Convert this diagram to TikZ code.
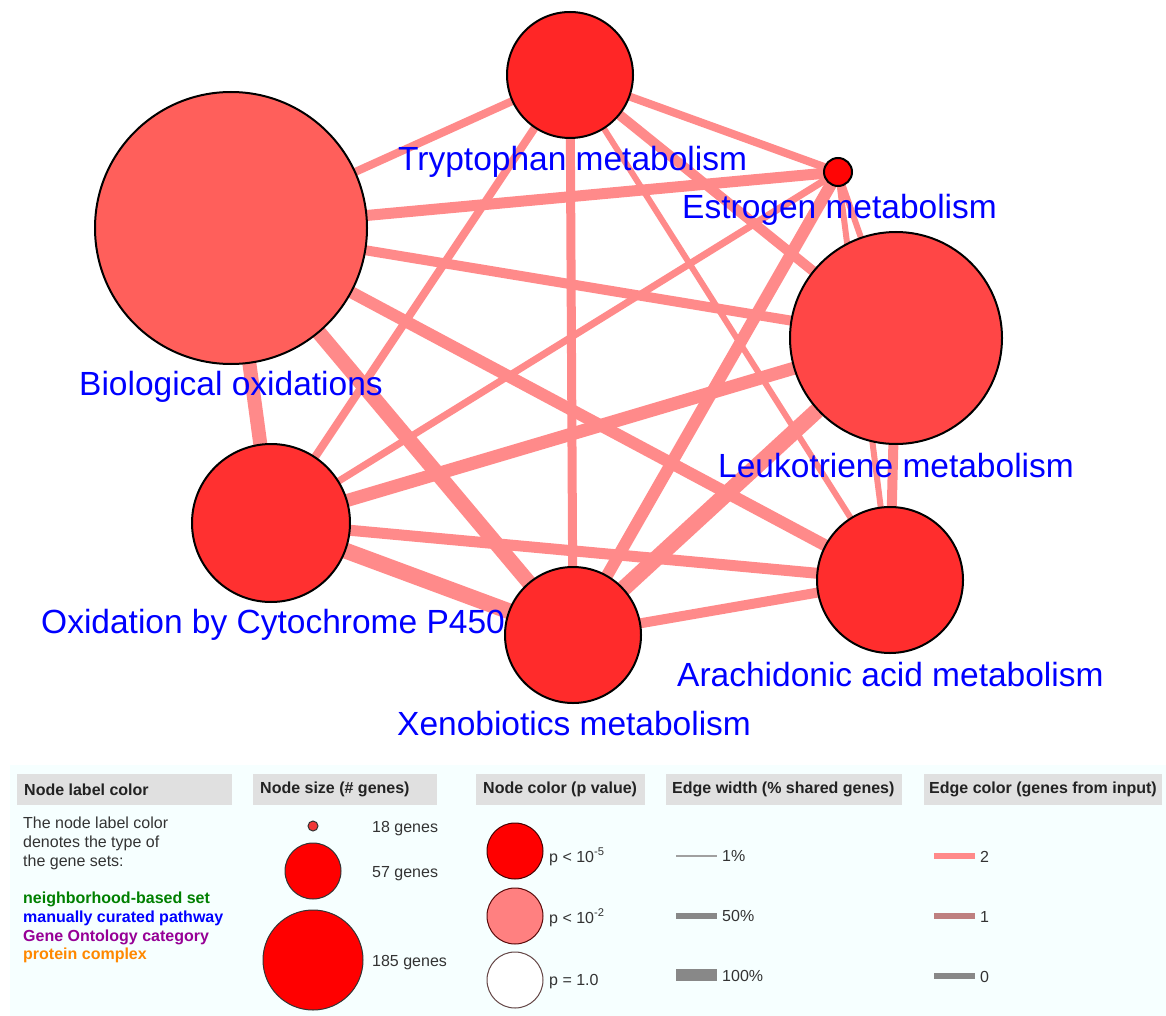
\documentclass[tikz,border=0pt]{standalone}
\usepackage{fontspec}
\setmainfont{Liberation Sans}
\pgfdeclarelayer{paper}
\pgfdeclarelayer{edges}
\pgfsetlayers{paper,edges,main}

\definecolor{edgecol}{RGB}{255,138,138}
\definecolor{labelblue}{RGB}{0,0,255}
\definecolor{legbg}{RGB}{246,255,255}
\definecolor{hdrbg}{RGB}{224,224,224}
\definecolor{txtdark}{RGB}{34,34,34}
\definecolor{txtbody}{RGB}{51,51,51}
\definecolor{cBO}{RGB}{255,95,91}
\definecolor{cTM}{RGB}{255,38,38}
\definecolor{cEM}{RGB}{255,5,5}
\definecolor{cLM}{RGB}{255,70,70}
\definecolor{cAA}{RGB}{255,45,45}
\definecolor{cOC}{RGB}{255,48,48}
\definecolor{cXM}{RGB}{255,43,43}
\definecolor{lgreen}{RGB}{0,128,0}
\definecolor{lpurple}{RGB}{150,0,150}
\definecolor{lorange}{RGB}{255,136,0}
\definecolor{pink}{RGB}{255,128,128}
\definecolor{brownish}{RGB}{190,128,128}
\definecolor{greyline}{RGB}{136,136,136}

\begin{document}
\begin{tikzpicture}[x=1pt,y=-1pt,
  gene/.style={circle, draw=black, line width=2pt, inner sep=0pt},
  link/.style={draw=edgecol, line cap=butt},
  lbl/.style={text=labelblue, font=\fontsize{33.5}{40}\selectfont, anchor=base west, inner sep=0pt},
  hdr/.style={text=txtdark, font=\fontsize{16}{19}\bfseries, anchor=west, inner sep=0pt},
  body/.style={text=txtbody, font=\fontsize{16}{19}\selectfont, anchor=base west, inner sep=0pt},
  kind/.style={font=\fontsize{16}{19}\bfseries, anchor=base west, inner sep=0pt},
  legdot/.style={circle, inner sep=0pt, line width=1pt},
  legline/.style={line cap=butt}
]
\useasboundingbox (0,0) rectangle (1166,1016);
\begin{pgfonlayer}{paper}
\fill[white] (0,0) rectangle (1166,1016);
\end{pgfonlayer}

% ---------- network nodes ----------
\node[gene, fill=cBO, minimum size=272pt] (bo) at (231,228) {};
\node[gene, fill=cTM, minimum size=126pt] (tm) at (570,75) {};
\node[gene, fill=cEM, minimum size=28pt]  (em) at (838,172) {};
\node[gene, fill=cLM, minimum size=212pt] (lm) at (896,338) {};
\node[gene, fill=cAA, minimum size=146pt] (aa) at (890,580) {};
\node[gene, fill=cOC, minimum size=158pt] (oc) at (271,523) {};
\node[gene, fill=cXM, minimum size=136pt] (xm) at (573,635) {};

% ---------- edges (beneath the nodes) ----------
\begin{pgfonlayer}{edges}
\foreach \a/\b/\w in {bo/tm/8, bo/em/11, bo/lm/10, bo/aa/12, bo/oc/14, bo/xm/15,
                      tm/oc/8, tm/xm/9, tm/aa/6, tm/lm/10, tm/em/8,
                      em/oc/7, em/xm/12, em/lm/6, em/aa/6,
                      oc/lm/13, oc/aa/11, oc/xm/16,
                      xm/lm/16, xm/aa/10, lm/aa/10}
  \draw[link, line width=\w pt] (\a.center) -- (\b.center);
\end{pgfonlayer}

% ---------- node labels ----------
\node[lbl] (tml) at (398,171) {Tryptophan metabolism};
\node[lbl] (eml) at (682,219) {Estrogen metabolism};
\node[lbl] (bol) at (79,395) {Biological oxidations};
\node[lbl] (lml) at (718,477) {Leukotriene metabolism};
\node[lbl] (ocl) at (41,633) {Oxidation by Cytochrome P450};
\node[lbl] (aal) at (677,686) {Arachidonic acid metabolism};
\node[lbl] (xml) at (397,735) {Xenobiotics metabolism};

% ---------- legend ----------
\fill[legbg] (10,765) rectangle (1166,1016);
\fill[hdrbg] (17,774) rectangle (232,805);
\fill[hdrbg] (253,774) rectangle (437,805);
\fill[hdrbg] (476,774) rectangle (645,805);
\fill[hdrbg] (666,774) rectangle (902,805);
\fill[hdrbg] (924,774) rectangle (1162,805);
\node[hdr] (h1) at (24,789.5) {Node label color};
\node[hdr] (h2) at (260,789.5) {Node size (\# genes)};
\node[hdr] (h3) at (483,789.5) {Node color (p value)};
\node[hdr] (h4) at (672,789.5) {Edge width (\% shared genes)};
\node[hdr] (h5) at (929,789.5) {Edge color (genes from input)};

% label colour column
\node[body] (t1) at (23,828) {The node label color};
\node[body] (t2) at (23,847) {denotes the type of};
\node[body] (t3) at (23,866) {the gene sets:};
\node[kind, text=lgreen]  (k1) at (23,903) {neighborhood-based set};
\node[kind, text=labelblue] (k2) at (23,922) {manually curated pathway};
\node[kind, text=lpurple] (k3) at (23,941) {Gene Ontology category};
\node[kind, text=lorange] (k4) at (23,959.5) {protein complex};

% node size column
\node[legdot, draw=black!80, fill={rgb,255:red,240;green,55;blue,55}, minimum size=10pt] (s1) at (313,826) {};
\node[legdot, draw=black!80, fill=red, minimum size=56pt] (s2) at (313,871) {};
\node[legdot, draw=black!80, fill=red, minimum size=100pt] (s3) at (313,960) {};
\node[body] (s1l) at (372,832) {18 genes};
\node[body] (s2l) at (372,877) {57 genes};
\node[body] (s3l) at (372,966) {185 genes};

% node colour column
\node[legdot, draw={rgb,255:red,70;green,0;blue,0}, fill=red, minimum size=56pt] (p1) at (515,851) {};
\node[legdot, draw={rgb,255:red,90;green,10;blue,10}, fill=pink, minimum size=56pt] (p2) at (515,916) {};
\node[legdot, draw={rgb,255:red,100;green,70;blue,70}, fill=white, minimum size=56pt] (p3) at (515,980) {};
\node[body] (p1l) at (549,862) {p < 10\textsuperscript{-5}};
\node[body] (p2l) at (549,923) {p < 10\textsuperscript{-2}};
\node[body] (p3l) at (549,985) {p = 1.0};

% edge width column
\coordinate (w1a) at (676,856); \coordinate (w1b) at (717,856);
\coordinate (w2a) at (676,916); \coordinate (w2b) at (717,916);
\coordinate (w3a) at (676,975); \coordinate (w3b) at (717,975);
\draw[legline, greyline!80, line width=2pt] (w1a) -- (w1b);
\draw[legline, greyline, line width=6pt] (w2a) -- (w2b);
\draw[legline, greyline, line width=12pt] (w3a) -- (w3b);
\node[body] (w1l) at (722,861) {1\%};
\node[body] (w2l) at (722,921) {50\%};
\node[body] (w3l) at (722,981) {100\%};

% edge colour column
\coordinate (c1a) at (934,856); \coordinate (c1b) at (975,856);
\coordinate (c2a) at (934,916); \coordinate (c2b) at (975,916);
\coordinate (c3a) at (934,976); \coordinate (c3b) at (975,976);
\draw[legline, edgecol, line width=6pt] (c1a) -- (c1b);
\draw[legline, brownish, line width=6pt] (c2a) -- (c2b);
\draw[legline, greyline, line width=6pt] (c3a) -- (c3b);
\node[body] (c1l) at (980,862) {2};
\node[body] (c2l) at (980,922) {1};
\node[body] (c3l) at (980,982) {0};
\end{tikzpicture}
\end{document}
